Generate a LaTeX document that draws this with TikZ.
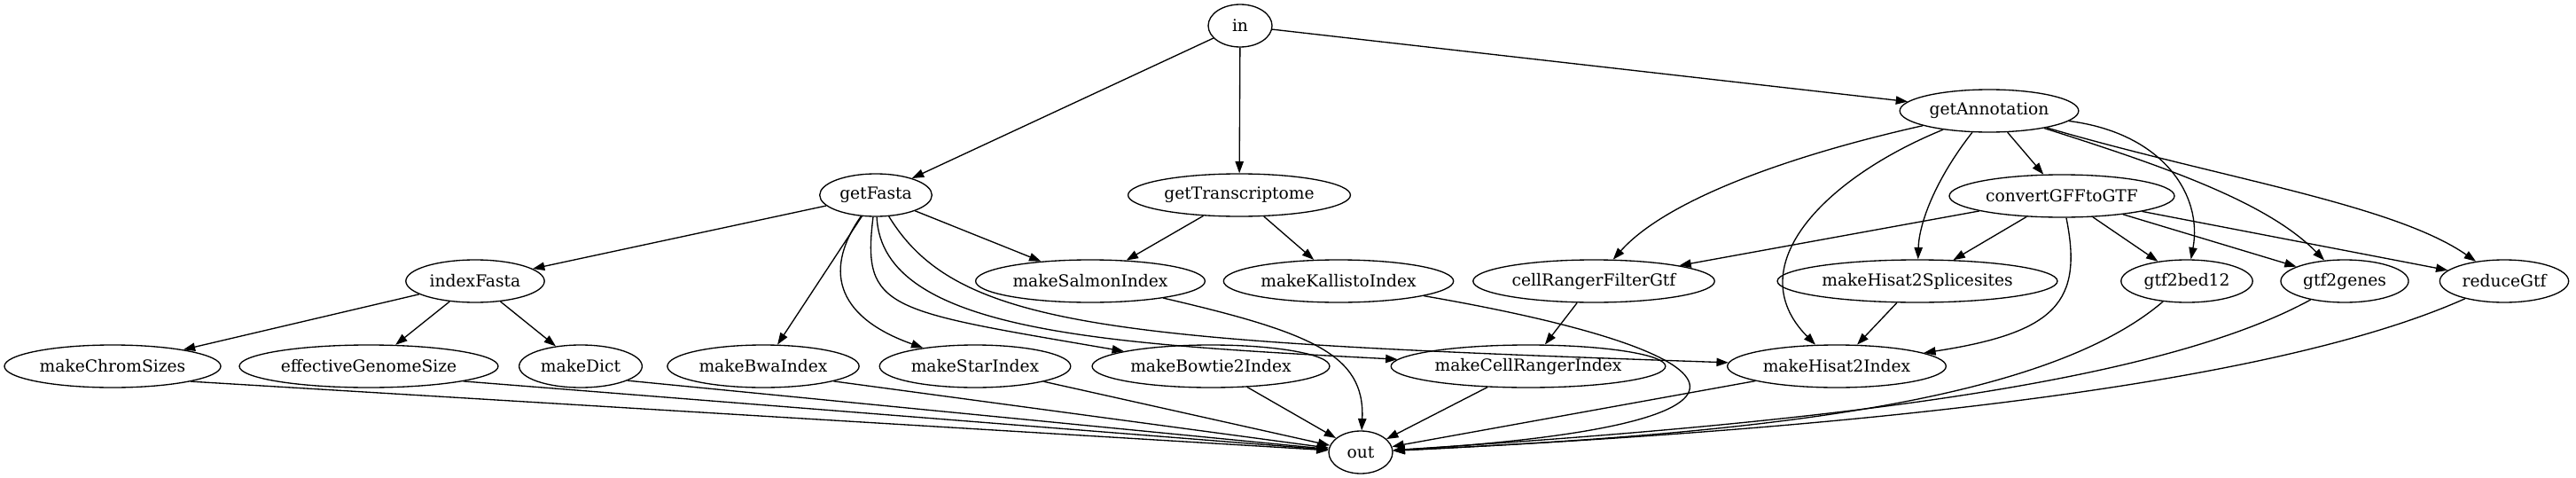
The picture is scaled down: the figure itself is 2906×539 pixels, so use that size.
\documentclass[tikz,border=0pt]{standalone}
\usepackage{fontspec}
\setmainfont{DejaVu Serif}
\usetikzlibrary{arrows.meta,shapes.geometric}

\begin{document}
\begin{tikzpicture}[x=0.75pt,y=0.75pt,line width=1pt,
  >={Triangle[length=10pt,width=7pt]},
  task/.style={draw,ellipse,inner xsep=3pt,inner ysep=0pt,
    minimum width=54pt,minimum height=36pt,font=\fontsize{14pt}{16pt}\selectfont}]
  \useasboundingbox (0,0) rectangle (2906,-539);
  % sources
  \node[task] (input) at (1399,-29) {in};
  \node[task] (getAnnotation) at (2244,-125) {getAnnotation};
  \node[task] (getFasta) at (988,-220) {getFasta};
  \node[task] (getTranscriptome) at (1398,-220) {getTranscriptome};
  \node[task] (convertGFF) at (2326,-221) {convertGFFtoGTF};
  % middle row
  \node[task] (indexFasta) at (536,-317) {indexFasta};
  \node[task] (salmon) at (1230,-317) {makeSalmonIndex};
  \node[task] (kallisto) at (1510,-317) {makeKallistoIndex};
  \node[task] (crFilter) at (1798,-317) {cellRangerFilterGtf};
  \node[task] (hisatSplice) at (2163,-317) {makeHisat2Splicesites};
  \node[task] (bed12) at (2467,-317) {gtf2bed12};
  \node[task] (genes) at (2645,-317) {gtf2genes};
  \node[task] (reduceGtf) at (2825,-317) {reduceGtf};
  % lower row
  \node[task] (chromSizes) at (127,-413) {makeChromSizes};
  \node[task] (genomeSize) at (416,-413) {effectiveGenomeSize};
  \node[task] (dict) at (655,-413) {makeDict};
  \node[task] (bwa) at (861,-413) {makeBwaIndex};
  \node[task] (star) at (1100,-413) {makeStarIndex};
  \node[task] (bowtie) at (1366,-413) {makeBowtie2Index};
  \node[task] (crIndex) at (1724,-413) {makeCellRangerIndex};
  \node[task] (hisatIndex) at (2072,-413) {makeHisat2Index};
  \node[task] (output) at (1535,-510) {out};

  \draw[->] (input) -- (getFasta);
  \draw[->] (input) -- (getTranscriptome);
  \draw[->] (input) -- (getAnnotation);
  % getFasta
  \draw[->] (getFasta) -- (indexFasta);
  \draw[->] (getFasta) -- (salmon);
  \draw[->] (getFasta) -- (bwa);
  \draw[->] (getFasta) .. controls (925,-310) and (950,-360) .. (star);
  \draw[->] (getFasta) .. controls (972,-350) and (1000,-350) .. (bowtie);
  \draw[->] (getFasta) .. controls (995,-375) and (1250,-388) .. (crIndex);
  \draw[->] (getFasta) .. controls (1080,-370) and (1250,-385) .. (hisatIndex);
  \draw[->] (getTranscriptome) -- (salmon);
  \draw[->] (getTranscriptome) -- (kallisto);
  % getAnnotation
  \draw[->] (getAnnotation) -- (convertGFF);
  \draw[->] (getAnnotation) .. controls (2020,-175) and (1880,-225) .. (crFilter);
  \draw[->] (getAnnotation) .. controls (2060,-200) and (1960,-300) .. (hisatIndex);
  \draw[->] (getAnnotation) .. controls (2185,-200) and (2165,-250) .. (hisatSplice);
  \draw[->] (getAnnotation) .. controls (2440,-150) and (2485,-220) .. (bed12);
  \draw[->] (getAnnotation) .. controls (2450,-190) and (2560,-230) .. (genes);
  \draw[->] (getAnnotation) .. controls (2500,-200) and (2700,-230) .. (reduceGtf);
  \draw[->] (convertGFF) -- (crFilter);
  \draw[->] (convertGFF) -- (hisatSplice);
  \draw[->] (convertGFF) .. controls (2350,-340) and (2320,-375) .. (hisatIndex);
  \draw[->] (convertGFF) -- (bed12);
  \draw[->] (convertGFF) -- (genes);
  \draw[->] (convertGFF) -- (reduceGtf);
  \draw[->] (indexFasta) -- (chromSizes);
  \draw[->] (indexFasta) -- (genomeSize);
  \draw[->] (indexFasta) -- (dict);
  \draw[->] (crFilter) -- (crIndex);
  \draw[->] (hisatSplice) -- (hisatIndex);
  % into out
  \draw[->] (salmon) .. controls (1480,-375) and (1540,-400) .. (output);
  \draw[->] (kallisto) .. controls (1990,-400) and (2030,-480) .. (output);
  \draw[->] (chromSizes.-11) -- (output);
  \draw[->] (genomeSize.-9) -- (output);
  \draw[->] (dict.-17) -- (output);
  \draw[->] (bwa.-12) -- (output);
  \draw[->] (star) -- (output);
  \draw[->] (bowtie) -- (output);
  \draw[->] (crIndex) -- (output);
  \draw[->] (hisatIndex) -- (output);
  \draw[->] (bed12) .. controls (2300,-460) and (1950,-490) .. (output);
  \draw[->] (genes) .. controls (2420,-440) and (2000,-480) .. (output);
  \draw[->] (reduceGtf) .. controls (2550,-440) and (2050,-485) .. (output);
\end{tikzpicture}
\end{document}
